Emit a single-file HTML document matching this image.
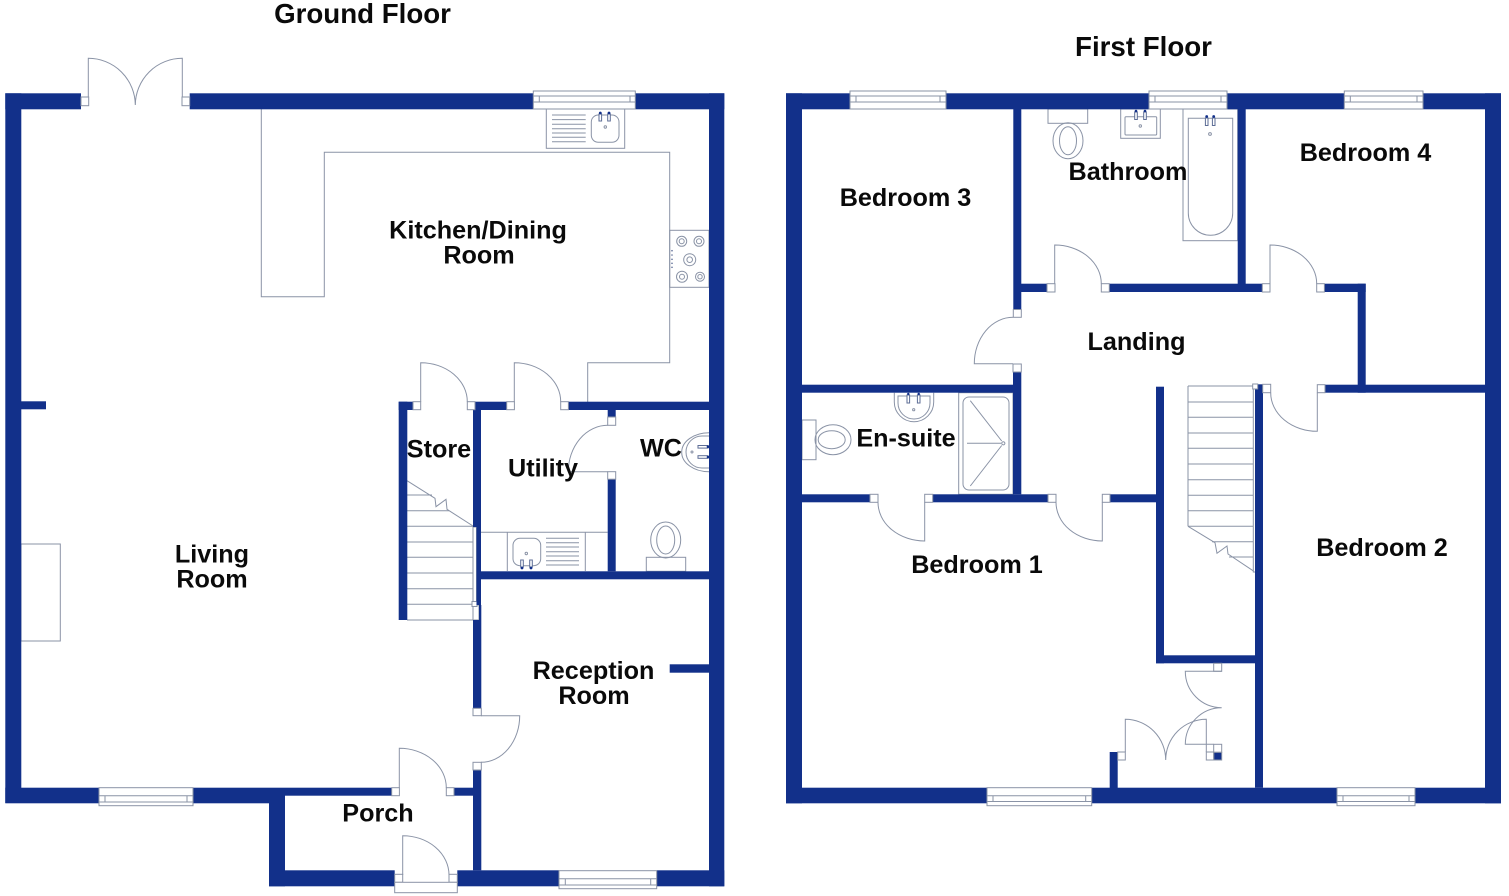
<!DOCTYPE html>
<html lang="en">
<head>
<meta charset="utf-8">
<title>Floor Plan</title>
<style>
html,body{margin:0;padding:0;background:#fff;width:1509px;height:896px;overflow:hidden}
svg{display:block;position:absolute;left:0;top:0}
.w{fill:#12308a;stroke:none}
.l{fill:none;stroke:#8a93a6;stroke-width:1}
.b{fill:#fff;stroke:#8a93a6;stroke-width:1}
.tap{fill:#fff;stroke:#5d6d96;stroke-width:1}
.dot{fill:#12308a}
text{font-family:"Liberation Sans",Arial,sans-serif;font-weight:700;fill:#0a0a0a;text-anchor:middle}
.t{font-size:25.2px}
.h{font-size:27.7px}
</style>
</head>
<body>
<svg width="1509" height="896" viewBox="0 0 1509 896" xmlns="http://www.w3.org/2000/svg">

<!-- GROUND FLOOR: fixtures under walls -->
<path class="l" d="M261.3 109V296.7H324.3V152.3H669.7V362.7H587.7V402"/>
<rect class="l" x="21" y="544" width="39.3" height="97"/>
<rect class="l" x="669.7" y="230.3" width="39.3" height="57"/>
<rect class="l" x="546.3" y="109" width="78.4" height="39.3"/>
<path class="l" d="M552 115H585.7M552 119.6H585.7M552 124.3H585.7M552 128.7H585.7M552 133H585.7M552 137.3H585.7M552 141.7H585.7"/>
<rect class="l" x="591.3" y="115" width="27.7" height="27.3" rx="7"/>
<rect class="tap" x="599" y="114" width="2.6" height="7"/><rect class="tap" x="607.7" y="114" width="2.6" height="7"/>
<circle class="dot" cx="600.3" cy="113" r="1.4"/><circle class="dot" cx="609" cy="113" r="1.4"/>
<circle class="l" cx="605.3" cy="127" r="1.2"/>
<g class="l">
<circle cx="681.7" cy="241.3" r="5"/><circle cx="681.7" cy="241.3" r="2.5"/>
<circle cx="699" cy="241.3" r="5"/><circle cx="699" cy="241.3" r="2.5"/>
<circle cx="689.7" cy="259.7" r="6"/><circle cx="689.7" cy="259.7" r="2.8"/>
<circle cx="682" cy="276.7" r="5.5"/><circle cx="682" cy="276.7" r="2.5"/>
<circle cx="700" cy="276.7" r="4.5"/><circle cx="700" cy="276.7" r="2.2"/>
</g>
<g fill="#5d6d96"><circle cx="672" cy="250.7" r=".8"/><circle cx="672" cy="255" r=".8"/><circle cx="672" cy="259.3" r=".8"/><circle cx="672" cy="263.3" r=".8"/><circle cx="672" cy="267.3" r=".8"/></g>

<!-- store stairs -->
<path class="l" d="M407 495H432M407 510.7H449M407 526.3H473M407 542H473M407 557.3H473M407 573H473M407 588.7H473M407 604.3H473M407 620H479"/>
<path class="l" d="M407 480.7L435 498.3L436 506.7L446 499.3L447 509.3L473 526"/>
<path class="b" d="M473 527H476.5V605H479V620H473Z"/>
<rect class="b" x="472" y="601.5" width="5" height="5"/>

<!-- utility -->
<path class="l" d="M481 532.3H607.7M507.3 532.3V571M585.3 532.3V571"/>
<path class="l" d="M546 538.3H579M546 542.7H579M546 547H579M546 551.7H579M546 556H579M546 560.7H579M546 565H579"/>
<rect class="l" x="513" y="538.3" width="27.7" height="27.4" rx="7"/>
<rect class="tap" x="520.7" y="560" width="2.6" height="7"/><rect class="tap" x="529.7" y="560" width="2.6" height="7"/>
<circle class="dot" cx="522" cy="568" r="1.4"/><circle class="dot" cx="531" cy="568" r="1.4"/>
<circle class="l" cx="526.3" cy="553.5" r="1.2"/>

<!-- WC -->
<rect class="l" x="646.3" y="557.3" width="39.4" height="14"/>
<ellipse class="l" cx="665.7" cy="540" rx="15" ry="18"/>
<ellipse class="l" cx="665.7" cy="540" rx="9" ry="14"/>
<path class="l" d="M709 432.7A27.3 19.5 0 0 0 709 471.7M709 436H702A16 16 0 0 0 702 468H709"/>
<rect class="tap" x="698" y="445.5" width="10" height="2.6"/><rect class="tap" x="698" y="455.7" width="10" height="2.6"/>
<circle class="dot" cx="708" cy="446.7" r="1.3"/><circle class="dot" cx="708" cy="457" r="1.3"/>
<circle class="l" cx="692" cy="452" r="1"/>

<!-- ground walls -->
<g class="w">
<rect x="5.3" y="93.3" width="75.7" height="16"/>
<rect x="189.7" y="93.3" width="343.6" height="16"/>
<rect x="635.3" y="93.3" width="89" height="16"/>
<rect x="5.3" y="93.3" width="16" height="709.7"/>
<rect x="709" y="93.3" width="15.3" height="793"/>
<rect x="21" y="401.3" width="25" height="8"/>
<rect x="5.3" y="787.7" width="93.7" height="15.6"/>
<rect x="193" y="787.7" width="92" height="15.6"/>
<rect x="285" y="787.7" width="106.7" height="8"/>
<rect x="454" y="787.7" width="19" height="8"/>
<rect x="269" y="795.7" width="16" height="90.6"/>
<rect x="269" y="870.3" width="125.7" height="16"/>
<rect x="457.3" y="870.3" width="101.7" height="16"/>
<rect x="656.7" y="870.3" width="67.6" height="16"/>
<rect x="473" y="620" width="8.3" height="88.3"/>
<rect x="473" y="770" width="8.3" height="100.3"/>
<rect x="669.7" y="664.3" width="39.3" height="8.4"/>
<rect x="398.7" y="401.7" width="8.6" height="218.3"/>
<rect x="398.7" y="401.7" width="14.3" height="8.3"/>
<rect x="475" y="401.7" width="31.7" height="8.3"/>
<rect x="473" y="410" width="8" height="117"/>
<rect x="476.5" y="527" width="4.5" height="78"/>
<rect x="479" y="605" width="2.3" height="15"/>
<rect x="568.3" y="401.7" width="140.7" height="8.3"/>
<rect x="607.7" y="410" width="8" height="7"/>
<rect x="607.7" y="479" width="8" height="92.3"/>
<rect x="481" y="571.3" width="228" height="8"/>
</g>

<!-- ground doors -->
<rect class="b" x="81" y="97" width="7.7" height="8.7"/>
<rect class="b" x="182" y="97" width="7.7" height="8.7"/>
<path class="l" d="M88.3 97V58.3A47 47 0 0 1 135.3 105M182.3 97V58.3A47 47 0 0 0 135.3 105"/>
<rect class="b" x="413" y="401.7" width="7.7" height="8"/>
<rect class="b" x="467.3" y="401.7" width="7.7" height="8"/>
<path class="l" d="M420.7 401.7V362.7A46.6 39 0 0 1 467.3 401.7"/>
<rect class="b" x="506.7" y="401.7" width="7.7" height="8"/>
<rect class="b" x="560.7" y="401.7" width="7.7" height="8"/>
<path class="l" d="M514.3 401.7V362.7A46.4 39 0 0 1 560.7 401.7"/>
<rect class="b" x="607.7" y="417" width="8" height="8.3"/>
<rect class="b" x="607.7" y="471.7" width="8" height="7.5"/>
<path class="l" d="M607.7 471.7H568.3A39.4 46.4 0 0 1 607.7 425.3"/>
<rect class="b" x="473" y="708.3" width="8.3" height="7.4"/>
<rect class="b" x="473" y="762.3" width="8.3" height="7.7"/>
<path class="l" d="M481 715.7H519.7A38.7 46.6 0 0 1 481 762.3"/>
<rect class="b" x="391.7" y="787.7" width="7.7" height="8"/>
<rect class="b" x="446.3" y="787.7" width="7.7" height="8"/>
<path class="l" d="M399.3 787.7V748.3A47 39.4 0 0 1 446.3 787.7"/>
<rect class="b" x="394.7" y="874.3" width="8" height="8"/>
<rect class="b" x="449" y="874.3" width="8.3" height="8"/>
<rect class="b" x="394.7" y="882.3" width="62.6" height="10.4"/>
<path class="l" d="M402.7 875V835.7A46.3 39.3 0 0 1 449 875"/>

<!-- ground windows -->
<rect class="b" x="533.3" y="91" width="102" height="18"/>
<path class="l" d="M533.3 96H635.3M533.3 102H635.3M539.3 96V102M630 96V102"/>
<rect class="b" x="99" y="787.7" width="94" height="18"/>
<path class="l" d="M99 795.7H193M99 802H193M105 795.7V802M187 795.7V802"/>
<rect class="b" x="559" y="870.7" width="97.7" height="18"/>
<path class="l" d="M559 878.7H656.7M559 885H656.7M565.3 878.7V885M650.7 878.7V885"/>

<!-- FIRST FLOOR fixtures -->
<rect class="l" x="1183" y="109" width="54.7" height="131.7"/>
<path class="l" d="M1188.3 118.3H1232.7V213A22.2 22.3 0 0 1 1188.3 213Z"/>
<rect class="tap" x="1205.4" y="118" width="2.6" height="7.5"/><rect class="tap" x="1212.4" y="118" width="2.6" height="7.5"/>
<circle class="dot" cx="1206.7" cy="116.5" r="1.4"/><circle class="dot" cx="1213.7" cy="116.5" r="1.4"/>
<circle class="l" cx="1210" cy="134" r="1.4"/>
<rect class="l" x="1120.7" y="109" width="39.6" height="29.3"/>
<rect class="l" x="1125" y="116.7" width="31.7" height="18.3" rx="1"/>
<rect class="tap" x="1134.7" y="112" width="2.6" height="7.5"/><rect class="tap" x="1143.7" y="112" width="2.6" height="7.5"/>
<circle class="dot" cx="1136" cy="111" r="1.3"/><circle class="dot" cx="1145" cy="111" r="1.3"/>
<circle class="l" cx="1140.3" cy="126" r="1.2"/>
<rect class="l" x="1048" y="109" width="39.7" height="14.3"/>
<ellipse class="l" cx="1068" cy="140.7" rx="15" ry="18"/>
<ellipse class="l" cx="1068" cy="140.7" rx="8.5" ry="14"/>
<path class="l" d="M894.3 392.7V402A19.7 19.7 0 0 0 933.7 402V392.7"/>
<path class="l" d="M898 396H930V403A16 16 0 0 1 898 403Z"/>
<rect class="tap" x="907" y="395" width="2.6" height="8"/><rect class="tap" x="917.4" y="395" width="2.6" height="8"/>
<circle class="dot" cx="908.3" cy="394" r="1.2"/><circle class="dot" cx="918.7" cy="394" r="1.2"/>
<circle class="l" cx="913.7" cy="409.7" r="1.1"/>
<rect class="l" x="802" y="420" width="14" height="39.7"/>
<ellipse class="l" cx="833" cy="439.7" rx="18" ry="15"/>
<ellipse class="l" cx="831.7" cy="439.7" rx="13.5" ry="9"/>
<rect class="l" x="958.7" y="392.7" width="54.3" height="101.6"/>
<rect class="l" x="963" y="397" width="46" height="93" rx="6"/>
<path class="l" d="M970.3 400.7L1001.7 441M970.3 486L1001.7 445.5M967 443.3H1001"/>
<circle class="l" cx="1003.3" cy="443.3" r="1.6"/>

<!-- first stairs -->
<path class="l" d="M1188 386H1253.3M1188 402H1253.3M1188 417.3H1253.3M1188 433H1253.3M1188 448.3H1253.3M1188 464H1253.3M1188 479.7H1253.3M1188 495.3H1253.3M1188 510.7H1253.3M1188 526.3H1253.3M1212 541.7H1253.3M1229 557H1253.3M1188 386V526.3"/>
<path class="l" d="M1188 526.3L1215 542.7L1217 553.3L1227 546L1228 554L1256 572.7"/>
<path class="b" d="M1253.3 386H1255.5V572H1253.3Z"/>

<!-- first walls -->
<g class="w">
<rect x="786" y="93.3" width="64" height="16"/>
<rect x="946" y="93.3" width="203" height="16"/>
<rect x="1227" y="93.3" width="117.3" height="16"/>
<rect x="1423" y="93.3" width="78" height="16"/>
<rect x="786" y="93.3" width="16" height="710"/>
<rect x="1485" y="93.3" width="16" height="710"/>
<rect x="786" y="787.7" width="201" height="15.6"/>
<rect x="1091.7" y="787.7" width="245.3" height="15.6"/>
<rect x="1415" y="787.7" width="86" height="15.6"/>
<rect x="1013.3" y="109" width="8" height="200"/>
<rect x="1013" y="372" width="8.3" height="122.3"/>
<rect x="802" y="384.7" width="211" height="8"/>
<rect x="802" y="494.3" width="68" height="8"/>
<rect x="932.7" y="494.3" width="115.3" height="8"/>
<rect x="1110" y="494.3" width="47" height="8"/>
<rect x="1021" y="283.7" width="26" height="8.3"/>
<rect x="1109.3" y="283.7" width="153" height="8.3"/>
<rect x="1324.3" y="283.7" width="41.4" height="8.3"/>
<rect x="1357.7" y="283.7" width="8" height="109"/>
<rect x="1325" y="384.7" width="160" height="8"/>
<rect x="1255" y="384.3" width="8" height="403.4"/>
<rect x="1237.7" y="109" width="8" height="175"/>
<rect x="1156" y="386.7" width="8" height="276.6"/>
<rect x="1156" y="655.3" width="99" height="8"/>
<rect x="1109.7" y="752" width="8" height="36"/>
<rect x="1213.7" y="752.3" width="8" height="7.7"/>
</g>

<!-- first doors -->
<rect class="b" x="1013.3" y="309.5" width="8" height="7.8"/>
<rect class="b" x="1013" y="364" width="8.3" height="8"/>
<path class="l" d="M1013 363.7H974.3A38.7 46.4 0 0 1 1013 317.3"/>
<rect class="b" x="1047" y="283.7" width="8" height="8.3"/>
<rect class="b" x="1101.3" y="283.7" width="8" height="8.3"/>
<path class="l" d="M1054.7 283.7V245A46.6 38.7 0 0 1 1101.3 283.7"/>
<rect class="b" x="1262.3" y="283.7" width="7.7" height="8.3"/>
<rect class="b" x="1316.7" y="283.7" width="7.7" height="8.3"/>
<path class="l" d="M1270 283.7V245A46.7 38.7 0 0 1 1316.7 283.7"/>
<rect class="b" x="870" y="494.3" width="8" height="8"/>
<rect class="b" x="924.7" y="494.3" width="8" height="8"/>
<path class="l" d="M924.7 502.3V541A46.7 38.7 0 0 1 878 502.3"/>
<rect class="b" x="1048" y="494.3" width="8" height="8"/>
<rect class="b" x="1102.3" y="494.3" width="7.7" height="8"/>
<path class="l" d="M1102.3 502.3V541A46.3 38.7 0 0 1 1056 502.3"/>
<rect class="b" x="1262.7" y="384.3" width="8" height="8.4"/>
<rect class="b" x="1317.3" y="384.7" width="7.7" height="8"/>
<path class="l" d="M1317.3 392.7V431.3A46.6 38.6 0 0 1 1270.7 392.7"/>
<rect class="b" x="1252.7" y="384" width="5" height="5"/>
<rect class="b" x="1117.7" y="752" width="7.6" height="8"/>
<rect class="b" x="1206.3" y="752" width="7.4" height="8"/>
<rect class="l" x="1213.7" y="744.3" width="8" height="8"/>
<rect class="l" x="1213.7" y="752.3" width="8" height="7.7"/>
<path class="l" d="M1125.3 752V719.3A40.4 40.7 0 0 1 1165.7 760M1206.3 752V719.3A40.6 40.7 0 0 0 1165.7 760"/>
<rect class="b" x="1213.7" y="663.3" width="8" height="8"/>
<path class="l" d="M1221.7 671.3H1185.3A36.4 36.4 0 0 0 1221.7 707.7M1213.7 744.3H1185.3A36.4 36.6 0 0 1 1221.7 707.7"/>

<!-- first windows -->
<rect class="b" x="850" y="91" width="96" height="18"/>
<path class="l" d="M850 96H946M850 102H946M856 96V102M940 96V102"/>
<rect class="b" x="1149" y="91" width="78" height="18"/>
<path class="l" d="M1149 96H1227M1149 102H1227M1155 96V102M1221 96V102"/>
<rect class="b" x="1344.3" y="91" width="78.7" height="18"/>
<path class="l" d="M1344.3 96H1423M1344.3 102H1423M1350.3 96V102M1417 96V102"/>
<rect class="b" x="987" y="787.7" width="104.7" height="18"/>
<path class="l" d="M987 795.7H1091.7M987 801.5H1091.7M993 795.7V801.5M1085.7 795.7V801.5"/>
<rect class="b" x="1337" y="787.7" width="78" height="18"/>
<path class="l" d="M1337 795.7H1415M1337 801.5H1415M1343 795.7V801.5M1409 795.7V801.5"/>

<!-- labels -->
<text class="h" x="362.5" y="23">Ground Floor</text>
<text class="h" x="1143.5" y="56">First Floor</text>
<text class="t" x="478" y="238.3">Kitchen/Dining</text>
<text class="t" x="479" y="263.3">Room</text>
<text class="t" x="212" y="562.5">Living</text>
<text class="t" x="212" y="587.5">Room</text>
<text class="t" x="439" y="457.3">Store</text>
<text class="t" x="543" y="476.7">Utility</text>
<text class="t" x="661" y="456.7">WC</text>
<text class="t" x="593.5" y="679">Reception</text>
<text class="t" x="594" y="704">Room</text>
<text class="t" x="378" y="821.7">Porch</text>
<text class="t" x="905.5" y="206">Bedroom 3</text>
<text class="t" x="1128" y="180">Bathroom</text>
<text class="t" x="1365.5" y="161">Bedroom 4</text>
<text class="t" x="1136.5" y="350">Landing</text>
<text class="t" x="906" y="446.7">En-suite</text>
<text class="t" x="977" y="573">Bedroom 1</text>
<text class="t" x="1382" y="556">Bedroom 2</text>
</svg>
</body>
</html>
